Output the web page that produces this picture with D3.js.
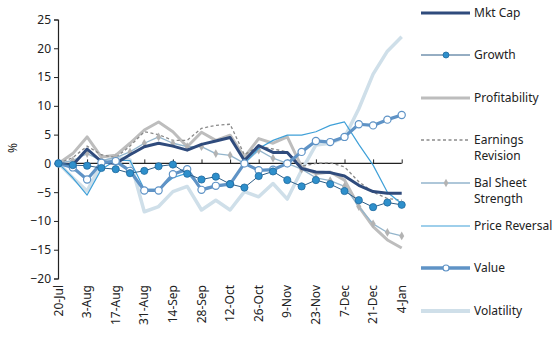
<!DOCTYPE html>
<html><head><meta charset="utf-8">
<script src="https://cdn.jsdelivr.net/npm/d3@7"></script>
<style>body{margin:0;background:#fff}svg{display:block}</style>
</head><body><svg id="c" width="560" height="338"></svg>
<script>
const dates = ["20-Jul","27-Jul","3-Aug","10-Aug","17-Aug","24-Aug","31-Aug","7-Sep","14-Sep","21-Sep","28-Sep","5-Oct","12-Oct","19-Oct","26-Oct","2-Nov","9-Nov","16-Nov","23-Nov","30-Nov","7-Dec","14-Dec","21-Dec","28-Dec","4-Jan"];
const tickLabels = ["20-Jul","3-Aug","17-Aug","31-Aug","14-Sep","28-Sep","12-Oct","26-Oct","9-Nov","23-Nov","7-Dec","21-Dec","4-Jan"];
const yTicks = [-20,-15,-10,-5,0,5,10,15,20,25];

const mktCap        = [0,-0.3,2.5,0.3,0,1.5,2.9,3.5,3.0,2.3,3.3,3.9,4.5,0.5,3.1,1.9,1.9,-0.9,-1.5,-1.6,-2.2,-3.8,-4.9,-5.2,-5.2];
const growth        = [0,-0.3,-0.4,-0.8,-1.0,-1.7,-1.3,-0.5,-0.2,-1.8,-2.8,-2.3,-3.6,-4.2,-2.2,-1.4,-2.9,-4.0,-2.9,-3.6,-4.8,-6.4,-7.6,-6.8,-7.2];
const profitability = [0,1.7,4.6,1.1,1.4,3.5,5.8,7.2,5.5,2.9,5.4,4.0,4.9,1.1,4.3,3.5,4.6,-0.6,-1.8,-1.5,-2.9,-7.5,-11.0,-13.3,-14.7];
const earningsRev   = [0,1.0,3.0,1.5,1.0,3.0,5.5,5.0,4.0,4.0,6.1,6.6,6.8,1.5,3.0,2.5,2.0,-0.5,0,0.1,-0.6,-3.2,-5.0,-6.1,-6.4];
const balSheet      = [0,0.5,1.7,0.5,1.0,2.0,3.5,4.6,3.5,2.9,2.9,1.7,1.4,0,2.3,0.9,0,-1.0,-2.5,-3.0,-4.0,-7.5,-10.5,-12.0,-12.6];
const priceRev      = [0,-2.5,-5.5,-1.0,0.5,0.5,-4.5,-4.5,-2.5,-1.7,-4.3,-4.0,-3.7,0,2.6,4.0,4.9,4.9,5.5,6.6,7.2,3.3,-0.3,-5.0,-7.0];
const value         = [0,-0.7,-2.8,0.1,0.4,-1.3,-4.7,-4.7,-1.9,-1.0,-4.6,-3.9,-3.6,0,-1.2,-1.1,0,2.0,3.9,3.7,4.6,6.8,6.6,7.6,8.4];
const volatility    = [0,-2.5,-4.8,0,1.1,0.6,-8.4,-7.5,-4.9,-4.0,-8.1,-6.4,-8.1,-4.9,-5.8,-3.5,-6.2,-1.2,3.2,3.5,4.5,9.5,15.5,19.5,22.0];

const seriesNames = ["Mkt Cap","Growth","Profitability","Earnings\nRevision","Bal Sheet\nStrength","Price Reversal","Value","Volatility"];

const svg = d3.select("#c");
const x = d3.scalePoint().domain(dates).range([58.5, 401.7]);
const y = d3.scaleLinear().domain([-20, 25]).range([278.5, 19.5]);
const font = "'Noto Sans', sans-serif";

// y axis
const yAx = svg.append("g").attr("transform","translate(58,0)")
  .call(d3.axisLeft(y).tickValues(yTicks).tickSize(4).tickPadding(3).tickFormat(d3.format("d")));
yAx.select(".domain").attr("stroke","#222").attr("stroke-width",1.2);
yAx.selectAll(".tick line").attr("stroke","#222");
yAx.selectAll("text").attr("font-family",font).attr("font-size",12).attr("fill","#222");

svg.append("text").attr("transform","translate(17,148) rotate(-90)")
  .attr("text-anchor","middle").attr("font-family",font).attr("font-size",12).attr("fill","#222").text("%");

// x axis at zero
const xAx = svg.append("g").attr("transform",`translate(0,${y(0)})`)
  .call(d3.axisTop(x).tickValues(tickLabels).tickSize(4).tickFormat(""));
xAx.select(".domain").attr("stroke","#222").attr("stroke-width",1.2).attr("d",`M${x(dates[0])},0H${x(dates[dates.length-1])}`);
xAx.selectAll(".tick line").attr("stroke","#222");

// x tick labels rotated
svg.append("g").selectAll("text").data(tickLabels).join("text")
  .attr("transform", d => `translate(${x(d)+4},285) rotate(-90)`)
  .attr("text-anchor","end").attr("font-family",font).attr("font-size",12).attr("fill","#222")
  .text(d => d);

const line = d3.line().x((d,i)=>x(dates[i])).y(d=>y(d));

function drawLine(data, color, width, dash){
  svg.append("path").datum(data).attr("d",line).attr("fill","none")
    .attr("stroke",color).attr("stroke-width",width).attr("stroke-linejoin","round")
    .attr("stroke-dasharray",dash||null);
}

const C = {
  mkt:"#2f4b7c", growthL:"#2c5d86", growthM:"#2e8fcb", prof:"#bdbdbd", earn:"#8a8a8a",
  bal:"#93b5cc", balM:"#b3b3b3", price:"#3fa0d8", value:"#5f93c6", vol:"#cfdfe9"
};

drawLine(volatility, C.vol, 3.5);
drawLine(profitability, C.prof, 3);
drawLine(earningsRev, C.earn, 1.3, "3,2.5");
drawLine(balSheet, C.bal, 1.3);
svg.append("g").selectAll("path").data(balSheet).join("path")
  .attr("d", d3.symbol(d3.symbolDiamond, 22)).attr("fill",C.balM)
  .attr("transform",(d,i)=>`translate(${x(dates[i])},${y(d)})`);
drawLine(priceRev, C.price, 1.2);
drawLine(mktCap, C.mkt, 3);
drawLine(value, C.value, 3.2);
svg.append("g").selectAll("circle").data(value).join("circle")
  .attr("cx",(d,i)=>x(dates[i])).attr("cy",d=>y(d)).attr("r",3.6)
  .attr("fill","#fff").attr("stroke",C.value).attr("stroke-width",1.2);
drawLine(growth, C.growthL, 1);
svg.append("g").selectAll("circle").data(growth).join("circle")
  .attr("cx",(d,i)=>x(dates[i])).attr("cy",d=>y(d)).attr("r",3.6)
  .attr("fill",C.growthM).attr("stroke","#1f6a9e").attr("stroke-width",0.8);

// legend
const legendY = [13,55,98,148,191,226,268,311];
const lg = svg.append("g");
const lx0 = 421, lx1 = 470, tx = 474;
seriesNames.forEach((name,i)=>{
  const yy = legendY[i];
  const g = lg.append("g");
  const styles = [
    {c:C.mkt,w:3},{c:C.growthL,w:1},{c:C.prof,w:3},{c:C.earn,w:1.3,d:"3,2.5"},
    {c:C.bal,w:1.3},{c:C.price,w:1.2},{c:C.value,w:3.5},{c:C.vol,w:4}
  ][i];
  const lines = name.split("\n");
  const ly = lines.length>1 ? yy-8 : yy;
  g.append("line").attr("x1",lx0).attr("x2",lx1).attr("y1",ly).attr("y2",ly)
    .attr("stroke",styles.c).attr("stroke-width",styles.w).attr("stroke-dasharray",styles.d||null);
  if(i===1) g.append("circle").attr("cx",446).attr("cy",ly).attr("r",3).attr("fill",C.growthM).attr("stroke","#1f6a9e").attr("stroke-width",0.8);
  if(i===4) g.append("path").attr("d",d3.symbol(d3.symbolDiamond,20)).attr("fill",C.balM).attr("transform",`translate(446,${ly})`);
  if(i===6) g.append("circle").attr("cx",446).attr("cy",ly).attr("r",3).attr("fill","#fff").attr("stroke",C.value).attr("stroke-width",1.2);
  const t = g.append("text").attr("x",tx).attr("font-family",font).attr("font-size",12).attr("fill","#222");
  lines.forEach((s,k)=>{
    t.append("tspan").attr("x",tx).attr("y", ly + 4 + k*16).text(s);
  });
});
</script></body></html>
